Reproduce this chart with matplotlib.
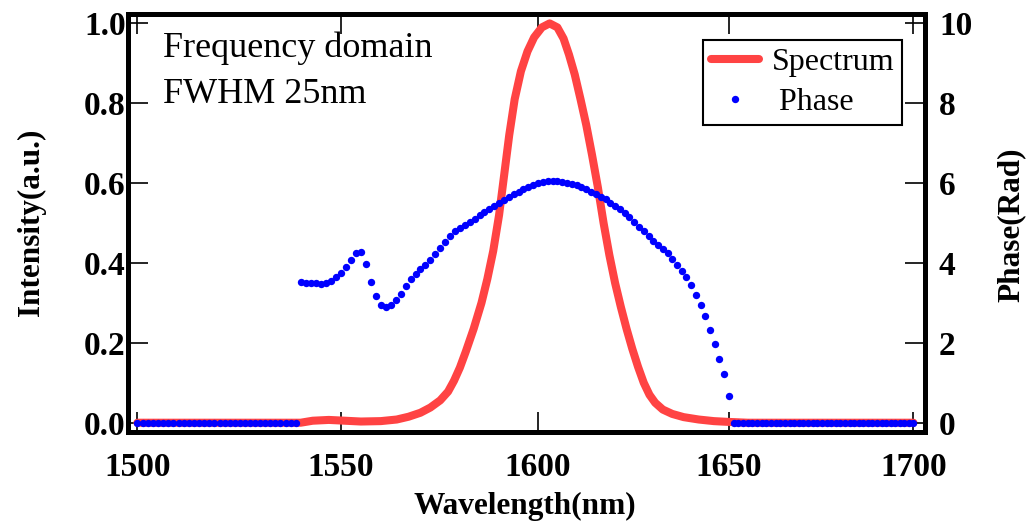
import numpy as np
import matplotlib
matplotlib.use("Agg")
import matplotlib.pyplot as plt

# ---------------- data ----------------
spec_wl = [1500, 1540, 1543, 1547, 1551, 1555, 1560, 1564, 1567, 1570, 1572.5, 1575,
           1577, 1578.5, 1580, 1581.5, 1583.5, 1585.5, 1587, 1588.5, 1590, 1591.3,
           1592.6, 1594, 1595.6, 1597.3, 1599, 1601, 1603, 1605, 1606.6, 1608,
           1609.5, 1611, 1612.5, 1614, 1615.5, 1617, 1618.5, 1620, 1621.5, 1623,
           1624.5, 1626, 1627.5, 1629, 1630.5, 1632.5, 1635, 1638, 1642, 1646,
           1650, 1655, 1700]
spec_int = [0.0, 0.0, 0.005, 0.007, 0.005, 0.003, 0.004, 0.008, 0.015, 0.025, 0.038, 0.056,
            0.078, 0.105, 0.138, 0.178, 0.235, 0.30, 0.36, 0.43, 0.52, 0.62,
            0.72, 0.81, 0.88, 0.93, 0.965, 0.99, 1.0, 0.99, 0.962, 0.922,
            0.872, 0.81, 0.745, 0.67, 0.59, 0.50, 0.42, 0.35, 0.29, 0.235,
            0.185, 0.14, 0.10, 0.07, 0.05, 0.033, 0.022, 0.014, 0.008, 0.004,
            0.002, 0.0, 0.0]

# phase samples (1.25 nm sampling grid) between 1540 and 1650 nm
phase_wl = np.arange(1540.0, 1650.01, 1.25)
phase_val = [3.53, 3.51, 3.50, 3.49, 3.47, 3.49, 3.55, 3.64, 3.75, 3.89,
             4.08, 4.24, 4.27, 3.98, 3.53, 3.18, 2.95, 2.89, 2.96, 3.08,
             3.22, 3.42, 3.61, 3.73, 3.84, 3.95, 4.08, 4.22, 4.37, 4.52,
             4.68, 4.79, 4.88, 4.96, 5.03, 5.11, 5.19, 5.27, 5.35, 5.43,
             5.51, 5.58, 5.65, 5.72, 5.79, 5.85, 5.91, 5.96, 6.00, 6.03,
             6.05, 6.06, 6.05, 6.03, 6.01, 5.98, 5.95, 5.91, 5.85, 5.78,
             5.72, 5.66, 5.59, 5.51, 5.43, 5.34, 5.25, 5.15, 5.03, 4.91,
             4.79, 4.67, 4.55, 4.44, 4.34, 4.24, 4.10, 3.96, 3.81, 3.64,
             3.45, 3.21, 2.95, 2.66, 2.33, 1.96, 1.60, 1.22, 0.68]
# phase is zero outside the pulse band
zero_wl_left = np.arange(1500.0, 1539.0, 1.25)
zero_wl_right = np.arange(1651.25, 1700.01, 1.25)

x_ticks = [1500, 1550, 1600, 1650, 1700]
y_ticks_left = [0.0, 0.2, 0.4, 0.6, 0.8, 1.0]
y_ticks_right = [0, 2, 4, 6, 8, 10]

# ---------------- wavelength axis mapping of the reference ----------------
A, B = 206.65, 3.15


def fwd(x):
    t = (np.asarray(x, dtype=float) - 1500.0) / 50.0
    return A * t - B * t * t


def inv(u):
    u = np.asarray(u, dtype=float)
    d = np.sqrt(np.clip(A * A - 4.0 * B * u, 0.0, None))
    return 1500.0 + 50.0 * (A - d) / (2.0 * B)


plt.rcParams['font.family'] = ['Liberation Serif', 'DejaVu Serif']
plt.rcParams['font.weight'] = 'bold'

W, H = 1031, 521
fig = plt.figure(figsize=(W / 100, H / 100), dpi=100)
L, R, T, Bt = 128.3, 925.0, 13.8, 431.5
ax = fig.add_axes([L / W, 1 - Bt / H, (R - L) / W, (Bt - T) / H])
ax.set_xscale('function', functions=(fwd, inv))

red = '#FF4343'
blue = '#0000FF'
ln, = ax.plot(spec_wl, spec_int, color=red, lw=5.8, solid_capstyle='round',
              solid_joinstyle='round', label='Spectrum', zorder=2)
ax.set_xlim(1497.8, 1703.2)
ax.set_ylim(-0.022, 1.024)

ms = 5.3
ax2 = ax.twinx()
ax2.plot(zero_wl_left, np.zeros(len(zero_wl_left)), 'o', ms=ms, color=blue, mec=blue, mew=0)
ax2.plot(zero_wl_right, np.zeros(len(zero_wl_right)), 'o', ms=ms, color=blue, mec=blue, mew=0)
pt, = ax2.plot(phase_wl, phase_val, 'o', ms=ms, color=blue, mec=blue, mew=0, label=' Phase')
ax2.set_ylim(-0.22, 10.24)

ax.set_xticks(x_ticks)
ax.set_xticklabels([str(v) for v in x_ticks])
ax.set_yticks(y_ticks_left)
ax.set_yticklabels(['%.1f' % v for v in y_ticks_left])
ax2.set_yticks(y_ticks_right)
ax2.set_yticklabels([str(v) for v in y_ticks_right])
ax.minorticks_off()
ax2.minorticks_off()

tl = 14.4
tw = 1.2
ax.tick_params(axis='x', which='both', direction='in', length=tl, width=tw,
               top=True, bottom=True, labelsize=24, pad=15)
ax.tick_params(axis='y', direction='in', length=tl, width=tw, left=True, right=False,
               labelsize=24, pad=2)
ax2.tick_params(axis='y', direction='in', length=tl, width=tw, right=True, left=False,
                labelsize=24, pad=10)

for a in (ax, ax2):
    for s in a.spines.values():
        s.set_linewidth(3.6)
        s.set_color('black')
        s.set_capstyle('projecting')

# axis titles
fig.text(525 / W, 7 / H, 'Wavelength(nm)', ha='center', va='baseline',
         fontsize=22.5, fontweight='bold')
fig.text(31 / W, 1 - 222 / H, 'Intensity(a.u.)', rotation=90, ha='center',
         va='center', fontsize=22.5, fontweight='bold')
fig.text(1011 / W, 1 - 225 / H, 'Phase(Rad)', rotation=90, ha='center',
         va='center', fontsize=22.5, fontweight='bold')

# annotation
fig.text(163 / W, 1 - 57 / H, 'Frequency domain', ha='left', va='baseline',
         fontsize=26, fontweight='normal')
fig.text(163 / W, 1 - 103 / H, 'FWHM 25nm', ha='left', va='baseline',
         fontsize=26, fontweight='normal')

leg = ax2.legend([ln, pt], ['Spectrum', ' Phase'], loc='upper right',
                 bbox_to_anchor=(902 / W, 1 - 40 / H), bbox_transform=fig.transFigure,
                 borderaxespad=0, fancybox=False, framealpha=1, edgecolor='black',
                 prop={'family': ['Liberation Serif'], 'weight': 'normal', 'size': 23},
                 handlelength=1.5, handletextpad=0.4, labelspacing=0.32,
                 borderpad=0.25, numpoints=1, markerscale=1.0)
leg.get_frame().set_linewidth(1.5)

fig.savefig('out.png', dpi=100)
